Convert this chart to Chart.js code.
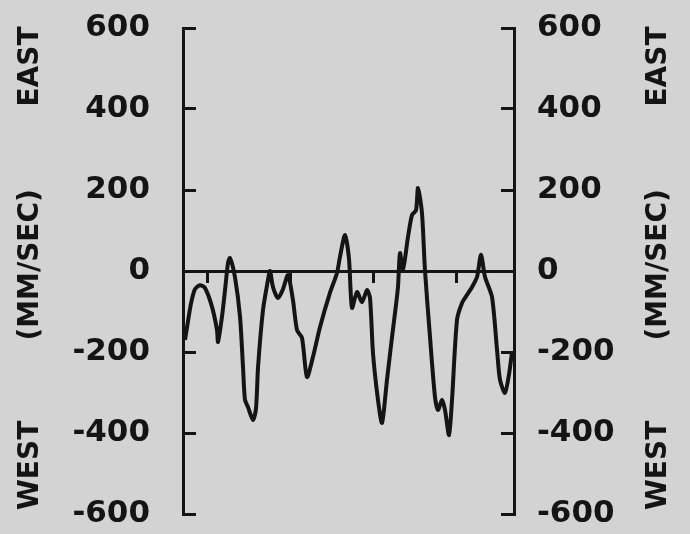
<!DOCTYPE html>
<html>
<head>
<meta charset="utf-8">
<script src="https://cdn.jsdelivr.net/npm/chart.js@4.4.1/dist/chart.umd.min.js"></script>
<style>
  html, body { margin: 0; padding: 0; background: #d3d3d3; }
  #wrap { width: 690px; height: 534px; }
</style>
</head>
<body>
<div id="wrap"><canvas id="wind-chart" width="690" height="534"></canvas></div>
<script>
// time along the record (arbitrary units, 0..40 across the frame)
const timeValues = [
  0.24, 0.48, 0.97, 1.45, 2.05, 2.66, 3.50, 4.11, 4.23, 4.71,
  5.08, 5.44, 5.68, 6.28, 6.89, 7.25, 7.49, 7.85, 8.46, 8.82,
  9.07, 9.67, 10.27, 10.51, 10.88, 11.48, 12.08, 12.69, 13.29, 13.78,
  14.38, 14.98, 15.71, 16.56, 17.76, 18.61, 18.97, 19.58, 20.06, 20.42,
  21.03, 21.63, 22.24, 22.60, 22.96, 23.56, 24.05, 24.65, 25.26, 25.62,
  25.98, 26.22, 26.59, 27.19, 27.67, 28.16, 28.40, 28.88, 29.24, 29.85,
  30.45, 30.82, 31.30, 31.66, 32.15, 32.51, 33.11, 33.72, 34.32, 34.92,
  35.53, 36.01, 36.50, 37.34, 37.95, 38.31, 38.91, 39.40, 39.76
];
// east-west velocity (mm/sec)
const velocityValues = [
  -170, -140, -80, -45, -35, -42, -88, -146, -175, -113,
  -47, 20, 32, -15, -113, -237, -318, -336, -368, -340,
  -237, -96, -22, 0, -40, -67, -45, -10, -72, -146,
  -165, -262, -212, -138, -54, -5, 35, 89, 30, -91,
  -52, -77, -47, -67, -203, -318, -375, -269, -163, -104,
  -40, 44, 5, 84, 138, 150, 205, 143, 2, -163,
  -311, -343, -318, -343, -405, -318, -121, -79, -59, -40,
  -15, 40, -15, -64, -195, -269, -301, -255, -200
];
const velocityTicks = [600, 400, 200, 0, -200, -400, -600];
const timeTicks = [3, 13, 23, 33];
const sideWords = ['EAST', '(MM/SEC)', 'WEST'];
const sideWordAt = [505, 15, -480];

const ink = '#141414';
const labelFont = { family: '"DejaVu Sans", sans-serif', size: 31, weight: 'bold' };

function yAxis(position, padding, width) {
    return {
        type: 'linear',
        position: position,
        min: -600,
        max: 600,
        afterBuildTicks: (scale) => {
            scale.ticks = velocityTicks.map(v => ({ value: v }));
        },
        afterFit: (scale) => {
            scale.width = width;
            // labels may overhang the frame; keep the frame where it is
            scale.paddingTop = 0;
            scale.paddingBottom = 0;
        },
        grid: {
            drawOnChartArea: false,
            drawTicks: true,
            tickLength: -13, // ticks point into the plot
            color: ink,
            lineWidth: 3
        },
        border: { display: true, color: ink, width: 3 },
        ticks: { color: ink, font: labelFont, padding: padding }
    };
}

const sideWordsPlugin = {
    id: 'sideWords',
    afterDraw(chart) {
        const ctx = chart.ctx;
        const left = chart.scales.y;
        const right = chart.scales.y2;
        const spots = [left.right - 152, right.left + 145];
        ctx.save();
        ctx.fillStyle = ink;
        ctx.font = 'bold 28px "DejaVu Sans", sans-serif';
        ctx.textAlign = 'center';
        ctx.textBaseline = 'middle';
        spots.forEach(x => {
            sideWords.forEach((word, i) => {
                ctx.save();
                ctx.translate(x, left.getPixelForValue(sideWordAt[i]));
                ctx.rotate(-Math.PI / 2);
                ctx.fillText(word, 0, 0);
                ctx.restore();
            });
        });
        ctx.restore();
    }
};

const ctx = document.getElementById('wind-chart').getContext('2d');
const chart = new Chart(ctx, {
    type: 'line',
    data: {
        datasets: [{
            label: 'Velocity',
            data: timeValues.map((t, i) => ({ x: t, y: velocityValues[i] })),
            borderColor: ink,
            borderWidth: 4,
            pointRadius: 0,
            tension: 0.25,
            fill: false,
            yAxisID: 'y'
        }]
    },
    options: {
        responsive: false,
        devicePixelRatio: 1,
        animation: false,
        layout: { padding: { top: 28, bottom: 20, left: 0, right: 0 } },
        plugins: {
            legend: { display: false },
            tooltip: { enabled: false }
        },
        scales: {
            x: {
                type: 'linear',
                position: { y: 0 },
                min: 0,
                max: 40,
                afterBuildTicks: (scale) => {
                    scale.ticks = timeTicks.map(v => ({ value: v }));
                },
                afterFit: (scale) => { scale.height = 0; },
                grid: {
                    drawOnChartArea: false,
                    drawTicks: true,
                    tickLength: 10,
                    color: ink,
                    lineWidth: 3
                },
                border: { display: true, color: ink, width: 3 },
                ticks: { display: false }
            },
            y: yAxis('left', 46, 183),
            y2: yAxis('right', 36, 176)
        }
    },
    plugins: [sideWordsPlugin]
});
</script>
</body>
</html>
